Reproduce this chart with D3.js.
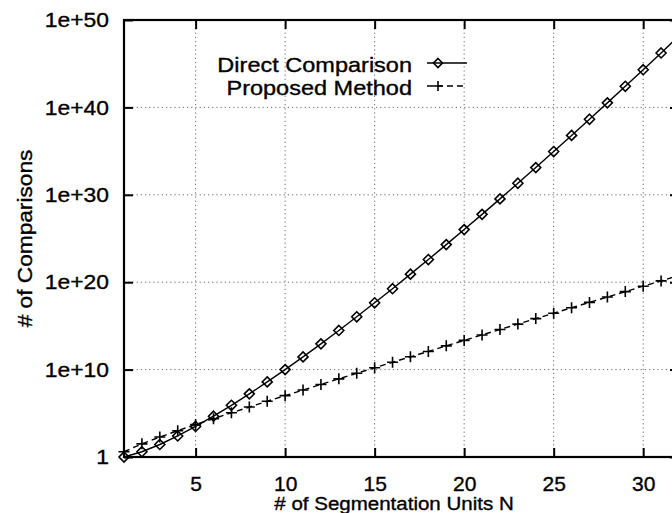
<!DOCTYPE html>
<html>
<head>
<meta charset="utf-8">
<script src="https://cdn.jsdelivr.net/npm/d3@7"></script>
<style>
  body { margin: 0; background: #fff; }
  text { font-family: "Liberation Sans", Arial, Helvetica, sans-serif; fill: #000;
         stroke: #000; stroke-width: 0.35px; }
</style>
</head>
<body>
<div id="plot"></div>
<script>
// N = 1 .. 32
const units = d3.range(1, 33);
const direct = [1, 4, 27, 256, 3125, 46656, 823543, 16777216, 387420489, 1e10,
  2.85e11, 8.9e12, 3.0e14, 1.1e16, 4.4e17, 1.8e19, 8.3e20, 3.9e22, 2.0e24, 1.05e26,
  5.8e27, 3.4e29, 2.1e31, 1.3e33, 8.9e34, 6.2e36, 4.4e38, 3.3e40, 2.6e42, 2.06e44,
  1.7e46, 1.5e48];
const proposed = [4, 32, 192, 1024, 5120, 24576, 1.15e5, 5.2e5, 2.4e6, 1.05e7,
  4.6e7, 2.0e8, 8.7e8, 3.8e9, 1.6e10, 6.9e10, 2.9e11, 1.2e12, 5.2e12, 2.2e13,
  9.2e13, 3.9e14, 1.6e15, 6.8e15, 2.8e16, 1.2e17, 4.9e17, 2.0e18, 8.4e18, 3.5e19,
  1.4e20, 5.9e20];
const xTicks = [5, 10, 15, 20, 25, 30];
const yTicks = [1, 1e10, 1e20, 1e30, 1e40, 1e50];
const yTickLabels = ["1", "1e+10", "1e+20", "1e+30", "1e+40", "1e+50"];
const seriesNames = ["Direct Comparison", "Proposed Method"];

const W = 672, H = 513;
const margin = {top: 20, right: -7, bottom: 56, left: 124};
const width = W - margin.left - margin.right;
const height = H - margin.top - margin.bottom;

const svg = d3.select("#plot").append("svg")
  .attr("width", W).attr("height", H);
const g = svg.append("g")
  .attr("transform", "translate(" + margin.left + "," + margin.top + ")");

const x = d3.scaleLinear().domain([1, 32]).range([0, width]);
const y = d3.scaleLog().domain([1, 1e50]).range([height, 0]);

// grid
const grid = g.append("g").attr("stroke", "#444").attr("stroke-width", 0.8)
  .attr("stroke-dasharray", "1.2,3");
grid.selectAll(".gx").data(xTicks).enter().append("line")
  .attr("x1", d => x(d)).attr("x2", d => x(d)).attr("y1", 0).attr("y2", height);
grid.selectAll(".gy").data(yTicks.slice(1, -1)).enter().append("line")
  .attr("x1", 0).attr("x2", width).attr("y1", d => y(d)).attr("y2", d => y(d));

const styleAxis = a => {
  a.select(".domain").remove();
  a.selectAll(".tick line").attr("stroke", "#000").attr("stroke-width", 2);
  a.selectAll("text").attr("font-family", null).attr("font-size", null)
    .style("font-size", "21px");
};

// axes, ticks pointing inward and mirrored
const xAxis = g.append("g").attr("transform", "translate(0," + height + ")")
  .call(d3.axisBottom(x).tickValues(xTicks).tickSizeInner(-9).tickPadding(19))
  .call(styleAxis);
g.append("g")
  .call(d3.axisTop(x).tickValues(xTicks).tickSizeInner(-9).tickFormat(""))
  .call(styleAxis);
const yAxis = g.append("g")
  .call(d3.axisLeft(y).tickValues(yTicks).tickSizeInner(-9).tickPadding(15)
    .tickFormat((d, i) => yTickLabels[i]))
  .call(styleAxis);
yAxis.selectAll("text").attr("x", -15 / 1.09).attr("transform", "scale(1.09,1)");
g.append("g").attr("transform", "translate(" + width + ",0)")
  .call(d3.axisRight(y).tickValues(yTicks).tickSizeInner(-9).tickFormat(""))
  .call(styleAxis);

g.append("rect").attr("width", width).attr("height", height)
  .attr("fill", "none").attr("stroke", "#000").attr("stroke-width", 2.2);

// series
const line = d3.line().x((d, i) => x(units[i])).y(d => y(d));
g.append("path").datum(direct).attr("d", line)
  .attr("fill", "none").attr("stroke", "#000").attr("stroke-width", 1.4);
g.append("path").datum(proposed).attr("d", line)
  .attr("fill", "none").attr("stroke", "#000").attr("stroke-width", 1.4)
  .attr("stroke-dasharray", "6,4");

const diamond = (sel, r) => sel.append("path")
  .attr("d", `M0,${-r}L${r},0L0,${r}L${-r},0Z`)
  .attr("fill", "none").attr("stroke", "#000").attr("stroke-width", 1.6);
const plus = (sel, r) => sel.append("path")
  .attr("d", `M${-r},0H${r}M0,${-r}V${r}`)
  .attr("fill", "none").attr("stroke", "#000").attr("stroke-width", 1.6);

g.selectAll(".dm").data(direct).enter().append("g")
  .attr("transform", (d, i) => "translate(" + x(units[i]) + "," + y(d) + ")")
  .each(function() { diamond(d3.select(this), 5); });
g.selectAll(".pm").data(proposed).enter().append("g")
  .attr("transform", (d, i) => "translate(" + x(units[i]) + "," + y(d) + ")")
  .each(function() { plus(d3.select(this), 5.5); });

// legend
const leg = svg.append("g");
[0, 1].forEach(i => {
  const ly = 63 + i * 23;
  leg.append("g").attr("transform", "translate(412," + (ly + 9) + ") scale(1.12,1)")
    .append("text").attr("text-anchor", "end").style("font-size", "21px")
    .text(seriesNames[i]);
  leg.append("line").attr("x1", 427).attr("x2", 467).attr("y1", ly).attr("y2", ly)
    .attr("stroke", "#000").attr("stroke-width", 1.4)
    .attr("stroke-dasharray", i ? "6,4" : null);
  const m = leg.append("g").attr("transform", "translate(438," + ly + ")");
  if (i) plus(m, 5); else diamond(m, 4.5);
});

// axis titles
svg.append("g").attr("transform", "translate(394,510) scale(1.08,1)")
  .append("text").attr("text-anchor", "middle").style("font-size", "19px")
  .text("# of Segmentation Units N");
svg.append("g").attr("transform", "translate(32," + (margin.top + height / 2) + ") rotate(-90) scale(1.08,1)")
  .append("text").attr("text-anchor", "middle").style("font-size", "21px")
  .text("# of Comparisons");
</script>
</body>
</html>
